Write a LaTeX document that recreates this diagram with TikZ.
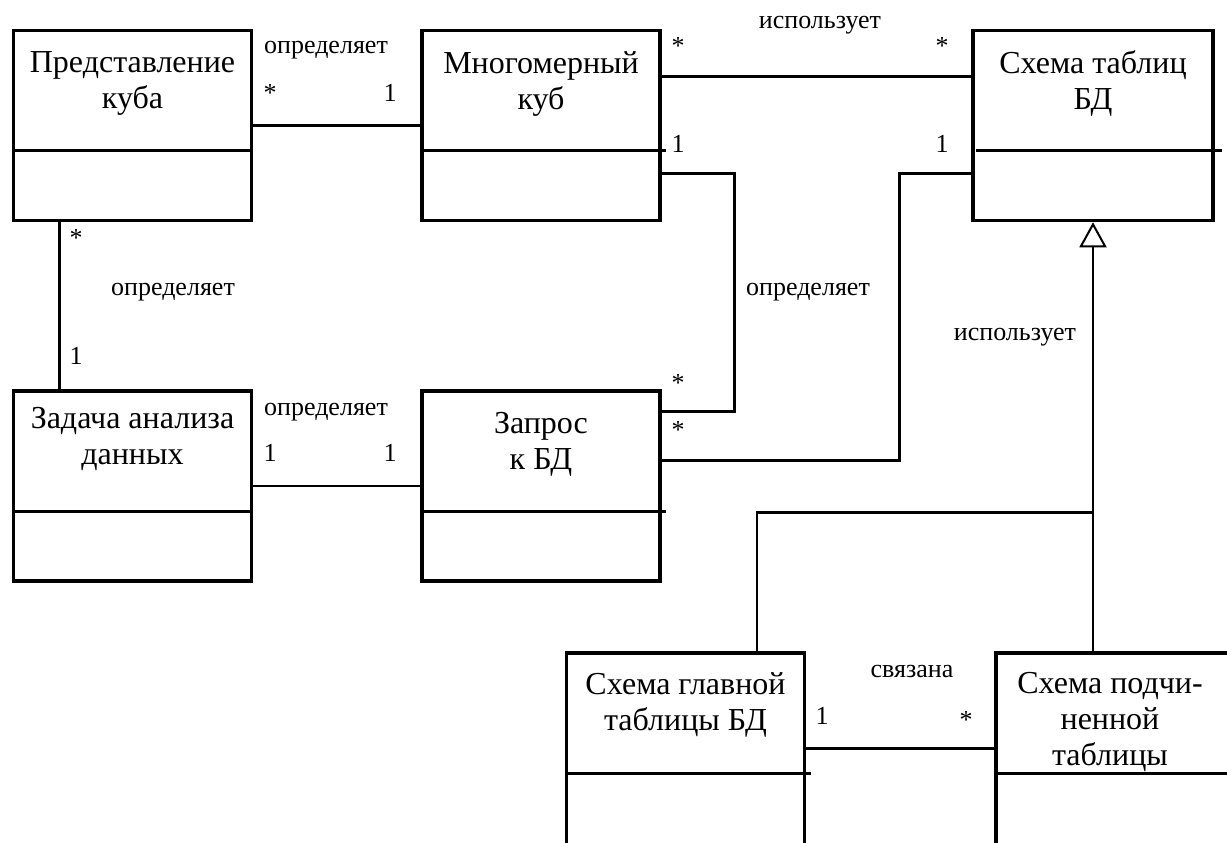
\documentclass[tikz,border=0pt]{standalone}
\usepackage{fontspec}
\setmainfont{Liberation Serif}
\usetikzlibrary{arrows.meta}
\usetikzlibrary{calc}

\tikzset{
  klass/.style={draw, line width=3.5pt, minimum width=238pt, minimum height=190pt, inner sep=0pt},
  ktext/.style={anchor=north, inner sep=0pt, align=center, font=\fontsize{32}{36}\selectfont},
  divline/.style={line width=3pt},
  assoc/.style={line width=2.7pt},
  gen/.style={line width=2.7pt, -{Triangle[open, length=25pt, width=27pt, line width=2pt]}},
  lbl/.style={anchor=base, inner sep=0pt, font=\fontsize{26}{30}\selectfont}
}

\begin{document}
\begin{tikzpicture}[x=1pt, y=-1pt]
  \useasboundingbox (0,0) rectangle (1227,843);
  \clip (0,0) rectangle (1227,843);

  % classes
  \node[klass] (pk) at (132.5,125.5) {};
  \node[klass] (mk) at (541,125.5) {};
  \node[klass, minimum width=240pt] (sk) at (1093,125.5) {};
  \node[klass] (zd) at (132.5,486) {};
  \node[klass] (zp) at (541,486) {};
  \node[klass, minimum height=240pt] (gt) at (685.5,773) {};
  \node[klass, minimum height=240pt] (pt) at (1115,773) {};

  \node[ktext] (pkt) at ([shift={(0,23)}]pk.north) {Представление\\куба};
  \node[ktext] (mkt) at ([shift={(0,23)}]mk.north) {Многомерный\\куб};
  \node[ktext] (skt) at ([shift={(0,22)}]sk.north) {Схема таблиц\\БД};
  \node[ktext] (zdt) at ([shift={(0,18)}]zd.north) {Задача анализа\\данных};
  \node[ktext] (zpt) at ([shift={(0,23)}]zp.north) {Запрос\\к БД};
  \node[ktext] (gtt) at ([shift={(0,21)}]gt.north) {Схема главной\\таблицы БД};
  \node[ktext] (ptt) at ([shift={(-5,21)}]pt.north) {Схема подчи-\\ненной\\таблицы};

  \foreach \b/\s/\e in {pk/0/0, mk/0/4, sk/5/7, zd/0/0, zp/0/4, gt/0/5, pt/4/0}
    \draw[divline] ([shift={(\s,122)}]\b.north west) -- ([shift={(\e,122)}]\b.north east);

  % associations
  \draw[assoc] (pk) -- (mk);
  \draw[assoc] (zd) -- (zp);
  \path (gt.north east) +(0,97) coordinate (gtpo);
  \draw[assoc] (gtpo) -- (gtpo -| pt.west);
  \path (pk.south west) +(48,0) coordinate (pkzo);
  \draw[assoc] (pkzo) -- (pkzo |- zd.north);
  \path (mk.north east) +(0,47.5) coordinate (mkso);
  \draw[assoc] (mkso) -- (mkso -| sk.west);
  \path (mk.north east) +(0,145) coordinate (mkzo);
  \path (zp.north east) +(0,22) coordinate (zpmi);
  \draw[assoc] (mkzo) -- +(73,0) |- (zpmi);
  \path (sk.north west) +(0,145) coordinate (skzo);
  \path (zp.north east) +(0,71) coordinate (zpsi);
  \draw[assoc] (skzo) -- +(-71.5,0) |- (zpsi);

  % generalization
  \draw[gen] (sk.south |- pt.north) -- (sk.south);
  \path (sk.south) +(0,290) coordinate (gj);
  \path (gt.north) +(71.5,0) coordinate (gto);
  \draw[assoc] (gto) |- (gj);

  % labels
  \node[lbl] (lpm) at (326,54) {определяет};
  \node[lbl] (mpm1) at (270,101) {*};
  \node[lbl] (mpm2) at (390,101) {1};
  \node[lbl] (lms) at (820,29) {использует};
  \node[lbl] (mms1) at (678,55) {*};
  \node[lbl] (mms2) at (942,55) {*};
  \node[lbl] (mmz1) at (678,152) {1};
  \node[lbl] (lmz) at (808,295) {определяет};
  \node[lbl] (mmz2) at (678,391) {*};
  \node[lbl] (msz1) at (942,152) {1};
  \node[lbl] (lsz) at (1015,340) {использует};
  \node[lbl] (msz2) at (678,438) {*};
  \node[lbl] (mpz1) at (76,246) {*};
  \node[lbl] (lpz) at (173,295) {определяет};
  \node[lbl] (mpz2) at (76,364) {1};
  \node[lbl] (lzz) at (326,415) {определяет};
  \node[lbl] (mzz1) at (270,461) {1};
  \node[lbl] (mzz2) at (390,461) {1};
  \node[lbl] (lgp) at (912,677) {связана};
  \node[lbl] (mgp1) at (822,724) {1};
  \node[lbl] (mgp2) at (966,728) {*};
\end{tikzpicture}
\end{document}
